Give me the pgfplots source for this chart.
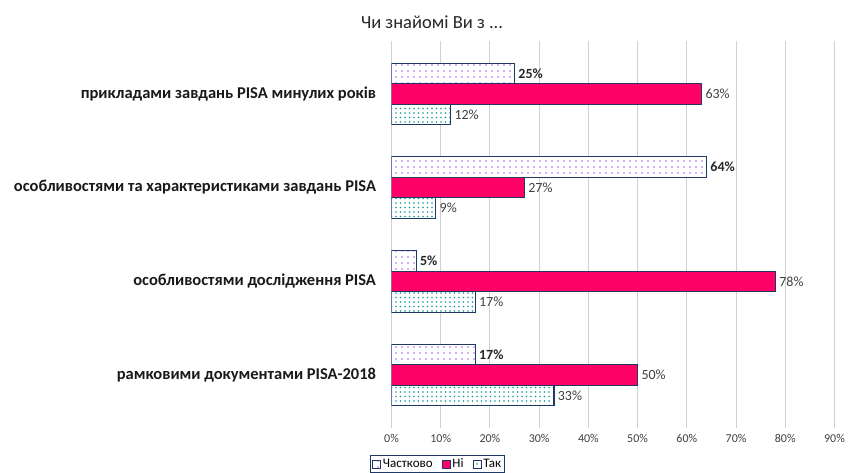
\documentclass[border=0pt]{standalone}
\usepackage{pgfplots}
\pgfplotsset{compat=1.18}
\usepackage{fontspec}
\setmainfont{Carlito}
\usetikzlibrary{patterns,patterns.meta}
\definecolor{navy}{HTML}{203864}
\definecolor{ni}{HTML}{FF0066}
\definecolor{txt}{HTML}{404040}
\definecolor{vdot}{HTML}{B060FF}
\definecolor{tdot}{HTML}{109C9C}
\begin{document}
\begin{tikzpicture}
\path[use as bounding box] (0,0) rectangle (850pt,473pt);
\node[font=\fontsize{18.5}{21}\selectfont, text=black!85] at (432pt,451pt) {Чи знайомі Ви з ...};
\begin{axis}[
  at={(391.5pt,51pt)}, anchor=south west,
  scale only axis, width=443pt, height=375pt,
  xbar, bar width=20.5pt,
  xmin=0, xmax=90, ymin=-0.5, ymax=3.5,
  axis line style={draw=none},
  xtick={0,10,...,90},
  xticklabel={\pgfmathprintnumber{\tick}\%},
  xticklabel style={font=\fontsize{12}{14}\selectfont, text=txt, yshift=-3pt},
  /pgf/number format/assume math mode=true,
  xmajorgrids, major grid style={draw=black!18, line width=1pt},
  x tick style={draw=black!18, line width=1pt}, tick align=outside, major tick length=6pt,
  ytick={0,1,2,3},
  yticklabels={рамковими документами PISA-2018, особливостями дослідження PISA, особливостями та характеристиками завдань PISA, прикладами завдань PISA минулих років},
  yticklabel style={font=\bfseries\fontsize{16.5}{19}\selectfont, text=black!90, xshift=-6pt},
  y tick style={draw=none},
  point meta=x,
  nodes near coords={\pgfmathprintnumber{\pgfplotspointmeta}\%},
  nodes near coords style={font=\fontsize{14}{16}\selectfont, text=txt},
  legend style={at={(0.104,-0.088)}, anchor=north, legend columns=3, draw=navy, line width=1pt,
    font=\fontsize{13}{15}\selectfont, inner sep=1.5pt,
    /tikz/every even column/.append style={column sep=7pt}},
  legend image code/.code={\draw[#1, line width=0.8pt] (0pt,-4pt) rectangle (8pt,4pt);},
]
\addplot[bar shift=20.5pt, draw=navy, line width=1.2pt, fill=white,
  postaction={pattern={Dots[distance=6pt,radius=0.9pt]}, pattern color=vdot},
  nodes near coords style={font=\bfseries\fontsize{14}{16}\selectfont, text=black!85}]
  coordinates {(17,0) (5,1) (64,2) (25,3)};
\addplot[bar shift=0pt, draw=navy, line width=1.2pt, fill=ni]
  coordinates {(50,0) (78,1) (27,2) (63,3)};
\addplot[bar shift=-20.5pt, draw=navy, line width=1.2pt, fill=white,
  postaction={pattern={Dots[distance=4.5pt,radius=0.9pt]}, pattern color=tdot}]
  coordinates {(33,0) (17,1) (9,2) (12,3)};
\legend{Частково, Ні, Так}
\end{axis}
\end{tikzpicture}
\end{document}
